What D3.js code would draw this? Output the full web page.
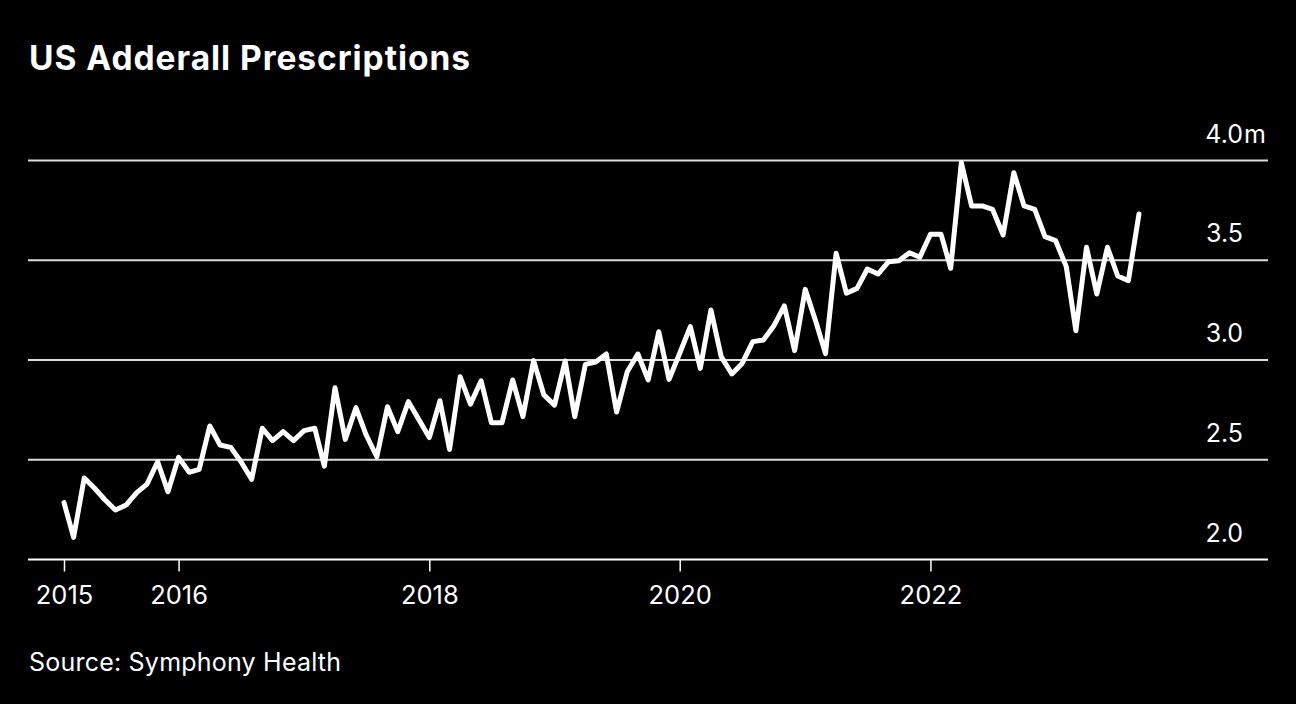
<!DOCTYPE html>
<html>
<head>
<meta charset="utf-8">
<script src="https://cdn.jsdelivr.net/npm/d3@7"></script>
<style>
  html, body { margin: 0; padding: 0; background: #000; }
  svg { display: block; }
  text { font-family: "Inter", "Liberation Sans", sans-serif; fill: #fff; }
</style>
</head>
<body>
<svg id="chart" width="1296" height="704"></svg>
<script>
// ---- Data (monthly, Feb 2015 – Sep 2023), millions of prescriptions ----
const startMonth = "2015-02";
const values = [
  2.285, 2.111, 2.409, 2.357, 2.298, 2.248, 2.273, 2.335, 2.378, 2.490, 2.340,
  2.512, 2.437, 2.452, 2.669, 2.574, 2.562, 2.490, 2.402, 2.658, 2.596, 2.641, 2.596,
  2.646, 2.658, 2.468, 2.861, 2.602, 2.761, 2.624, 2.515, 2.766, 2.641, 2.791, 2.703,
  2.611, 2.796, 2.552, 2.916, 2.779, 2.896, 2.686, 2.686, 2.900, 2.716, 2.997, 2.825,
  2.774, 2.995, 2.716, 2.978, 2.990, 3.030, 2.739, 2.941, 3.030, 2.900, 3.142, 2.903,
  3.034, 3.167, 2.958, 3.251, 3.017, 2.930, 2.983, 3.092, 3.100, 3.170, 3.271, 3.047,
  3.354, 3.192, 3.032, 3.535, 3.335, 3.359, 3.456, 3.431, 3.493, 3.498, 3.538, 3.515,
  3.630, 3.630, 3.460, 3.989, 3.772, 3.772, 3.755, 3.627, 3.939, 3.772, 3.755, 3.618,
  3.598, 3.468, 3.147, 3.565, 3.331, 3.565, 3.421, 3.398, 3.732
];
const xTickDates = ["2015-02", "2016-01", "2018-01", "2020-01", "2022-01"];
const xTickLabels = ["2015", "2016", "2018", "2020", "2022"];
const yTicks = [2.0, 2.5, 3.0, 3.5, 4.0];
const yTickLabels = ["2.0", "2.5", "3.0", "3.5", "4.0"];
const yUnit = "m";
const title = "US Adderall Prescriptions";
const source = "Source: Symphony Health";

// ---- Build dated series ----
const parseMonth = d3.timeParse("%Y-%m");
const start = parseMonth(startMonth);
const series = values.map((v, i) => ({ date: d3.timeMonth.offset(start, i), value: v }));

const svg = d3.select("#chart");

const x = d3.scaleTime()
  .domain(d3.extent(series, d => d.date))
  .range([64, 1139]);
const y = d3.scaleLinear()
  .domain([2.0, 4.0])
  .range([559.5, 160.5]);

const gridLeft = 28, gridRight = 1268, labelRight = 1243;

// fit text to a target width with letter spacing
function fitWidth(sel, target) {
  const n = sel.text().length;
  const w = sel.node().getComputedTextLength();
  const ls = (target - w) / Math.max(1, n - 1);
  if (ls > 0) sel.style("letter-spacing", ls + "px");
}

// Title
const titleText = svg.append("text")
  .attr("x", 29).attr("y", 70)
  .style("font-size", "33.5px").style("font-weight", 700)
  .text(title);
fitWidth(titleText, 441);

// Gridlines
svg.append("g").selectAll("line")
  .data(yTicks)
  .join("line")
  .attr("x1", gridLeft).attr("x2", gridRight)
  .attr("y1", d => y(d)).attr("y2", d => y(d))
  .attr("stroke", d => d === yTicks[0] ? "#ffffff" : "#dcdcdc")
  .attr("stroke-width", 2);

// Y labels
const yl = svg.append("g");
yl.selectAll("text")
  .data(yTicks)
  .join("text")
  .attr("x", labelRight)
  .attr("y", d => y(d) - 18)
  .attr("text-anchor", "end")
  .style("font-size", "25px")
  .text((d, i) => yTickLabels[i]);
yl.append("text")
  .attr("x", labelRight + 1)
  .attr("y", y(yTicks[yTicks.length - 1]) - 18)
  .style("font-size", "25px")
  .text(yUnit);

// X axis ticks & labels
const xAxis = d3.axisBottom(x)
  .tickValues(xTickDates.map(parseMonth))
  .tickFormat((d, i) => xTickLabels[i])
  .tickSize(12)
  .tickPadding(14);
const gx = svg.append("g")
  .attr("transform", `translate(0,${y(2.0)})`)
  .call(xAxis);
gx.select(".domain").remove();
gx.selectAll(".tick line").attr("stroke", "#fff").attr("stroke-width", 1.5);
gx.selectAll(".tick text")
  .attr("fill", "#fff")
  .style("font-family", "Inter, 'Liberation Sans', sans-serif")
  .style("font-size", "25.5px");

// Line
const line = d3.line()
  .x(d => x(d.date))
  .y(d => y(d.value));
svg.append("path")
  .datum(series)
  .attr("d", line)
  .attr("fill", "none")
  .attr("stroke", "#fff")
  .attr("stroke-width", 5)
  .attr("stroke-linejoin", "round")
  .attr("stroke-linecap", "round");

// Source
const srcText = svg.append("text")
  .attr("x", 29).attr("y", 671)
  .style("font-size", "25px")
  .text(source);
fitWidth(srcText, 312);
</script>
</body>
</html>
